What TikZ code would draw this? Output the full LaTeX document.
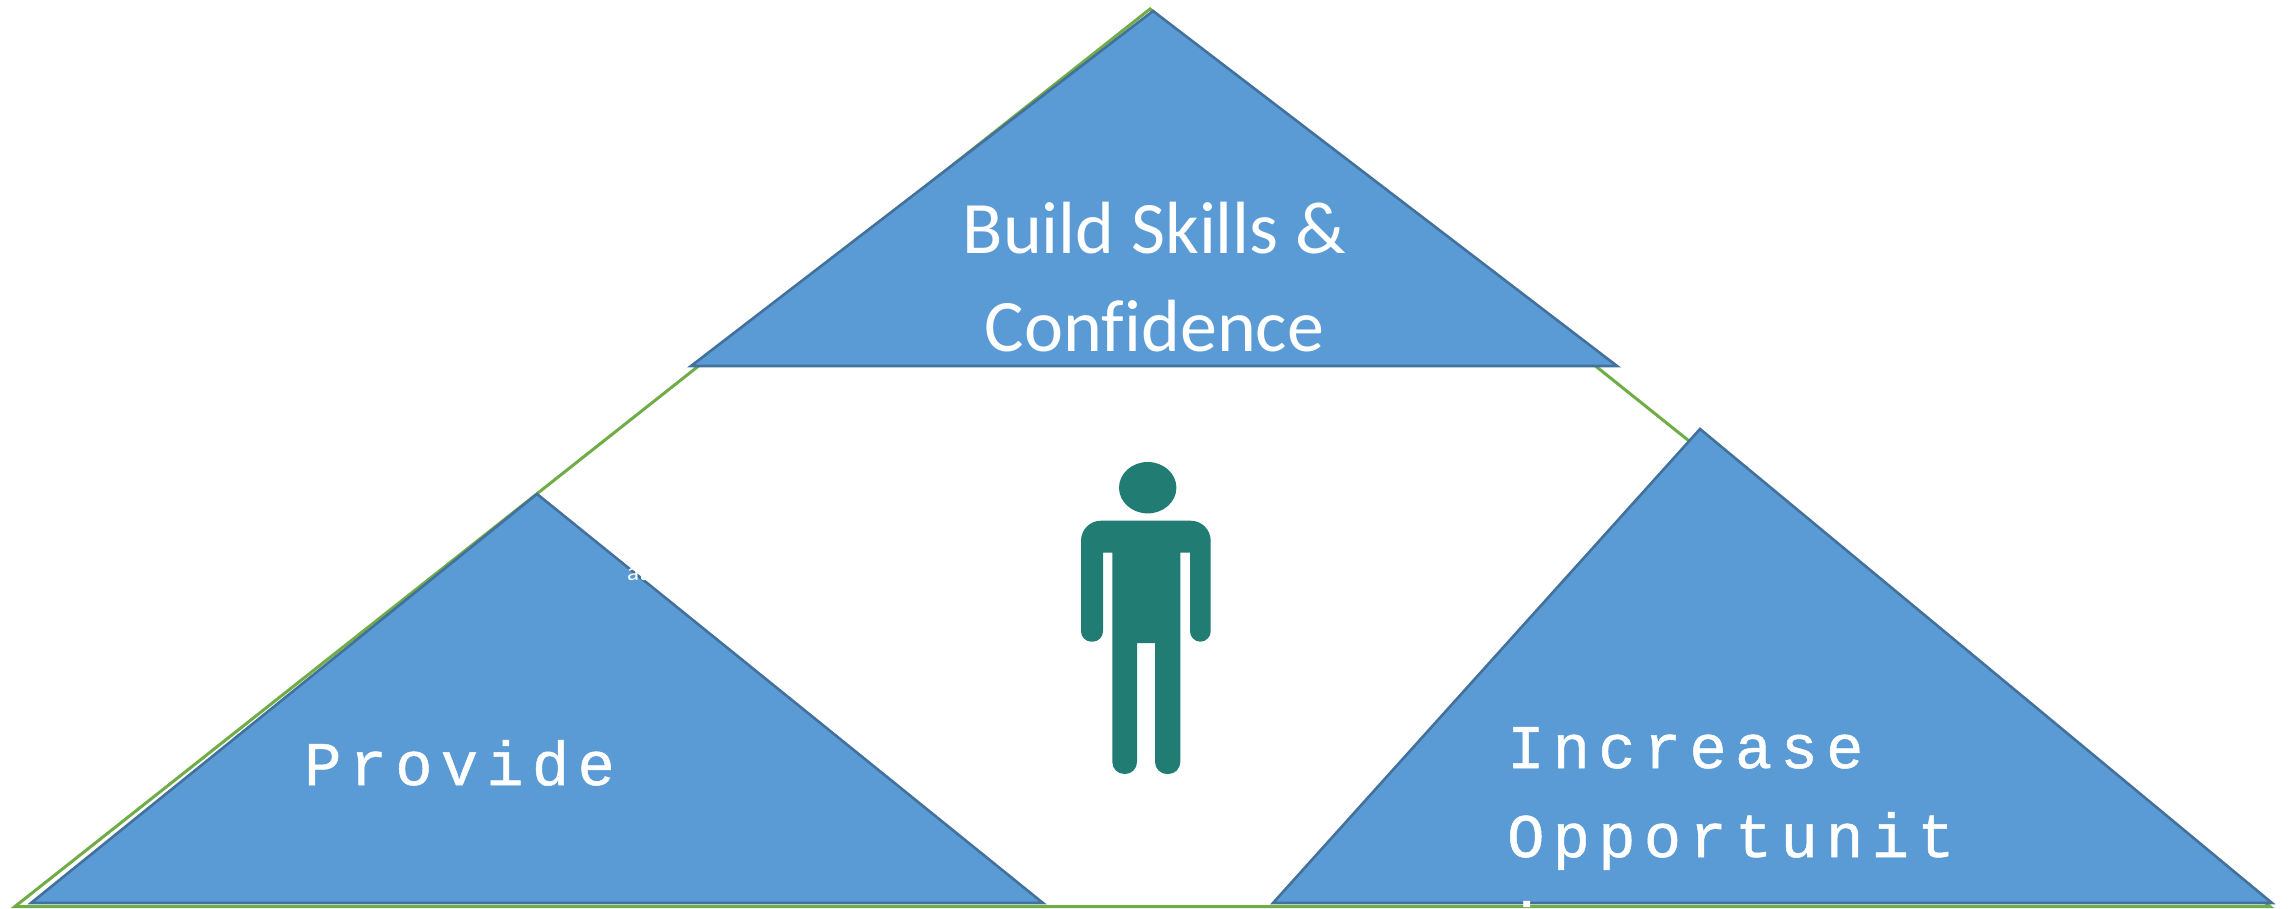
\documentclass[tikz,border=0pt]{standalone}
\usepackage{fontspec}
\setmainfont{Carlito}
\newfontfamily\monof[LetterSpace=13.5,FakeBold=0.8]{Liberation Mono}
\tikzset{
  x=1pt,y=-1pt,
  outer/.style={draw=frame,fill=white,line width=3pt,line join=miter},
  blue tri/.style={draw=edge,fill=panel,line width=2.6pt,line join=miter},
  figure/.style={fill=person},
  head text/.style={text=white,align=center,inner sep=0pt,font=\fontsize{74}{98}\selectfont},
  mono text/.style={text=white,align=left,inner sep=0pt,anchor=base west,font=\monof\fontsize{62}{89}\selectfont},
  small text/.style={text=white,inner sep=0pt,anchor=base west,font=\fontsize{25}{30}\selectfont}
}
\definecolor{frame}{HTML}{70AD47}
\definecolor{edge}{HTML}{41719C}
\definecolor{panel}{HTML}{5B9BD5}
\definecolor{person}{HTML}{217D73}
\begin{document}
\begin{tikzpicture}
\useasboundingbox (0,0) rectangle (2290,908);
\clip (0,0) rectangle (2290,908);
\fill[white] (0,0) rectangle (2290,908);
\draw[outer] (1150,9) -- (2270,906.5) -- (15,906.5) -- cycle;
\draw[blue tri] (1153,11) -- (1617,366) -- (691,366) -- cycle;
\draw[blue tri] (537,494) -- (1043,903) -- (31,903) -- cycle;
\draw[blue tri] (1700,429) -- (2272,903) -- (1273,903) -- cycle;
\fill[figure] (1147.7,487.7) ellipse [x radius=28.7,y radius=25.7];
\fill[figure,rounded corners=20]
  (1081,520.7) -- (1210.7,520.7) [rounded corners=10.5] -- (1210.7,641.7) -- (1190,641.7)
  [sharp corners] -- (1190,552.7) -- (1180.3,552.7) [rounded corners=12] -- (1180.3,774) -- (1155,774)
  [sharp corners] -- (1155,643) -- (1137,643) [rounded corners=12] -- (1137,774) -- (1112.3,774)
  [sharp corners] -- (1112.3,552.7) -- (1103,552.7) [rounded corners=10.5] -- (1103,641.7) -- (1081,641.7)
  [rounded corners=20] -- cycle;
\node[head text] (top) at (1154.5,277) {Build Skills \&\\Conf\kern0pt idence};
\node[mono text] (prov) at (304,785) {Provide};
\node[mono text] (incr) at (1507,946) {Increase\\Opportunit\\ies};
\node[small text] (frag) at (627,580) {at};
\end{tikzpicture}
\end{document}
